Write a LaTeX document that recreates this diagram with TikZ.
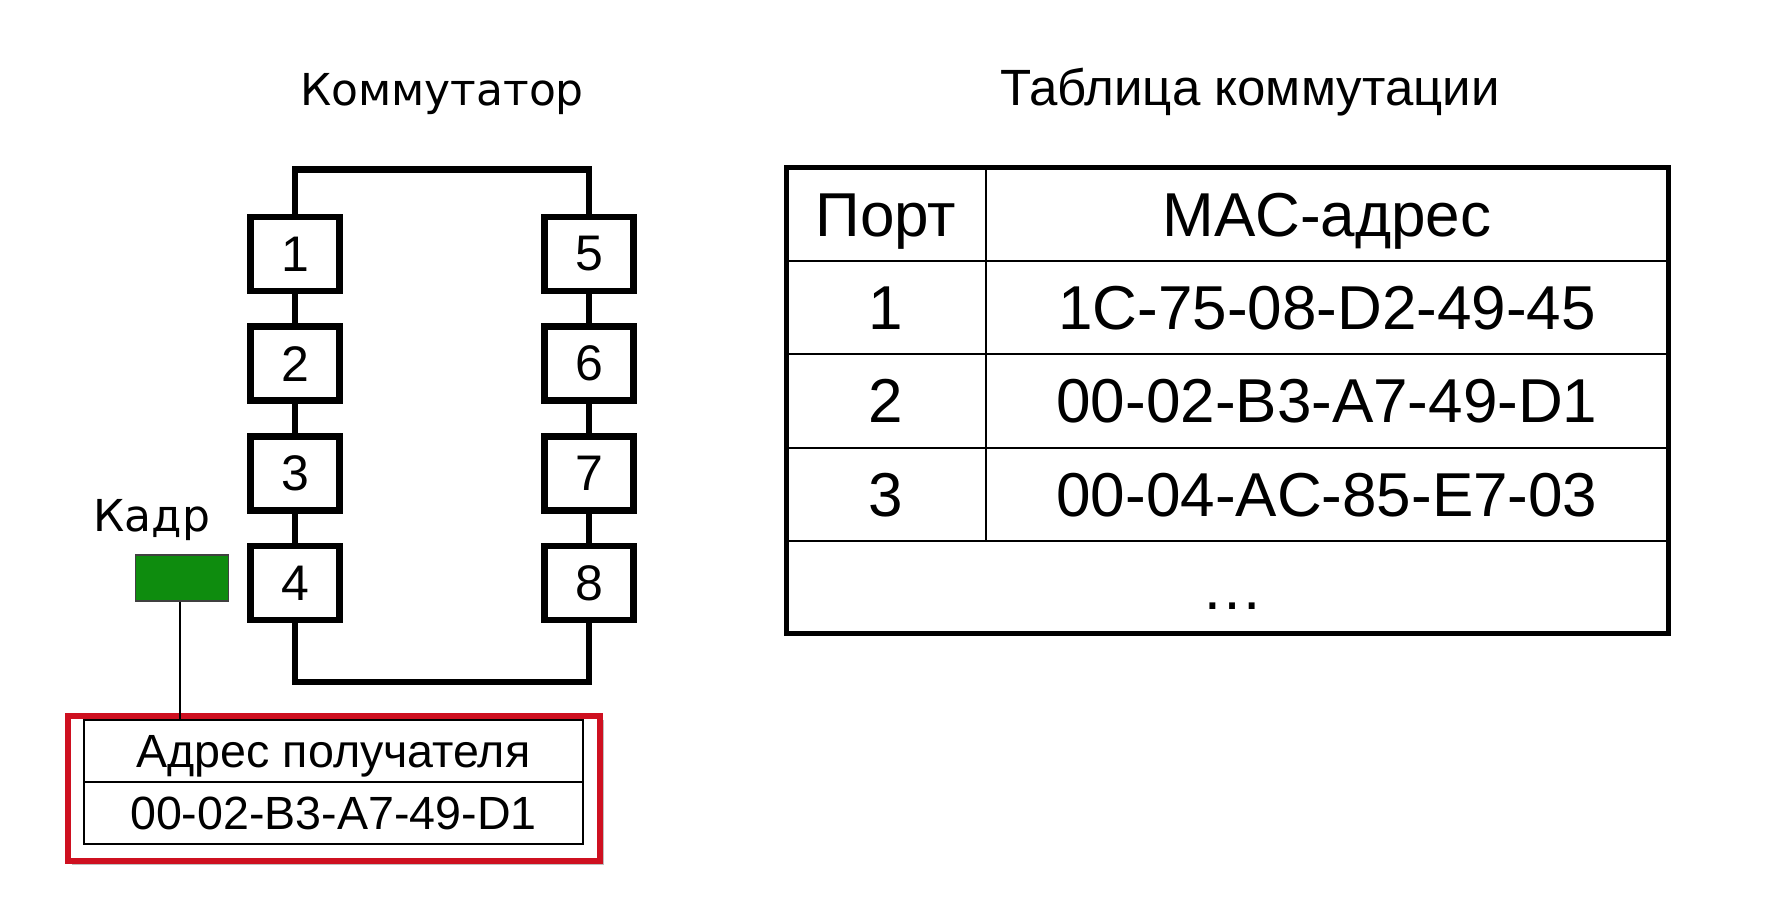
\documentclass[tikz,border=0pt]{standalone}
\usepackage{fontspec}
\setmainfont{Liberation Sans}
\newfontfamily\vfont{DejaVu Sans}
\usetikzlibrary{shadows}
\definecolor{kadrgreen}{RGB}{14,140,14}
\definecolor{framered}{RGB}{206,16,32}
\begin{document}
\begin{tikzpicture}[x=0.5pt,y=-0.5pt,line join=miter,
	port/.style={draw,line width=3.25pt,fill=white,minimum width=44.5pt,minimum height=37pt,inner sep=0pt,font=\fontsize{25}{30}\selectfont},
	cell/.style={draw,line width=1pt,minimum width=249.5pt,minimum height=31pt,inner sep=0pt,text depth=0pt},
	big/.style={anchor=base,font=\fontsize{31}{36}\selectfont}]
	\def\xl{295} \def\xr{589} \def\dy{109.67}
	\def\tl{786} \def\tr{1668} \def\tc{986} \def\tt{168} \def\rh{93.2}
	\useasboundingbox (0,0) rectangle (1778,924);
	\node[anchor=base,font=\vfont\fontsize{22}{26}\selectfont] (sw) at (442,106) {Коммутатор};
	\node[anchor=base,font=\fontsize{25.5}{30}\selectfont] (tab) at (1250,106) {Таблица коммутации};
	\draw[line width=3.25pt] (\xl,169.5) rectangle (\xr,682);
	\foreach \i in {1,...,4}{
		\pgfmathtruncatemacro\j{\i+4}
		\node[port] (p\i) at (\xl,254+\dy*\i-\dy) {\i};
		\node[port] (p\j) at (\xr,254+\dy*\i-\dy) {\j};
	}
	\node[anchor=base,font=\vfont\fontsize{22}{26}\selectfont] (kadr) at (152,532) {Кадр};
	\node[draw=black!75,line width=0.75pt,fill=kadrgreen,minimum width=46.5pt,minimum height=23pt] (frame) at (182,578) {};
	\node[draw=framered,line width=3pt,fill=white,minimum width=266pt,minimum height=72.5pt,
		drop shadow={shadow xshift=2pt,shadow yshift=-2pt,opacity=.5}] (hdr) at (334,788.5) {};
	\node[cell,text height=16.7pt,font=\fontsize{23.3}{27}\selectfont] (dst) at (333.5,751) {Адрес получателя};
	\node[cell,text height=16.7pt,font=\fontsize{23.3}{27}\selectfont] (dstmac) at (333.5,813) {00-02-B3-A7-49-D1};
	\draw[line width=1pt] (frame.south) ++(-2,0) coordinate (fs) -- (fs |- dst.north);
	\draw[line width=1pt] (\tc,\tt) -- (\tc,\tt+4*\rh);
	\foreach \k in {1,...,4} \draw[line width=1pt] (\tl,\tt+\k*\rh) -- (\tr,\tt+\k*\rh);
	\draw[line width=2.5pt] (\tl,\tt) rectangle (\tr,\tt+5*\rh);
	\node[big] (hport) at (886,\tt+0.5*\rh+22) {Порт};
	\node[big] (hmac) at (1327,\tt+0.5*\rh+22) {MAC-адрес};
	\foreach \p/\m [count=\k] in {1/1C-75-08-D2-49-45,2/00-02-B3-A7-49-D1,3/00-04-AC-85-E7-03}{
		\node[big] (port\k) at (886,\tt+\k*\rh+0.5*\rh+22) {\p};
		\node[big] (mac\k) at (1327,\tt+\k*\rh+0.5*\rh+22) {\m};
	}
	\node[big] (more) at (1232,\tt+4.5*\rh+22) {…};
\end{tikzpicture}
\end{document}
